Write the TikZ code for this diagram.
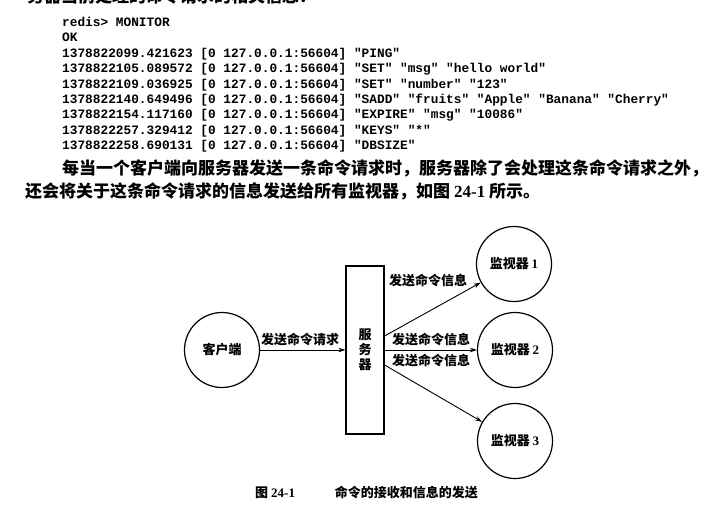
\documentclass[tikz,border=0pt]{standalone}
\usepackage{fontspec}
\setmainfont{Liberation Serif}
\setmonofont{Liberation Mono}
\newfontfamily\cjk{Noto Sans CJK SC}
\usetikzlibrary{arrows.meta}
\begin{document}
\begin{tikzpicture}[x=1pt,y=-1pt,
  code/.style={anchor=base west,inner sep=0pt,font=\ttfamily\bfseries\fontsize{12.8}{14}\selectfont},
  para/.style={anchor=base west,inner sep=0pt,font=\cjk\bfseries\fontsize{17}{20}\selectfont},
  lab/.style={inner sep=0pt,font=\cjk\bfseries\fontsize{13}{15}\selectfont},
  circ/.style={draw,circle,line width=1.2pt,minimum size=75pt,inner sep=0pt,font=\cjk\bfseries\fontsize{13}{15}\selectfont},
  conn/.style={line width=0.9pt,-{Stealth[length=7pt,width=4.5pt]}}]
\useasboundingbox (0,0) rectangle (721,527);
\begin{scope}
\clip (0,0) rectangle (721,527);
\node[para] (top) at (27,3) {务器当前处理的命令请求的相关信息：};
\end{scope}
\node[code] (c1) at (62,26.5) {redis> MONITOR};
\node[code] (c2) at (62,41.9) {OK};
\node[code] (c3) at (62,57.3) {1378822099.421623 [0 127.0.0.1:56604] "PING"};
\node[code] (c4) at (62,72.7) {1378822105.089572 [0 127.0.0.1:56604] "SET" "msg" "hello world"};
\node[code] (c5) at (62,88.1) {1378822109.036925 [0 127.0.0.1:56604] "SET" "number" "123"};
\node[code] (c6) at (62,103.5) {1378822140.649496 [0 127.0.0.1:56604] "SADD" "fruits" "Apple" "Banana" "Cherry"};
\node[code] (c7) at (62,118.9) {1378822154.117160 [0 127.0.0.1:56604] "EXPIRE" "msg" "10086"};
\node[code] (c8) at (62,134.3) {1378822257.329412 [0 127.0.0.1:56604] "KEYS" "*"};
\node[code] (c9) at (62,149.7) {1378822258.690131 [0 127.0.0.1:56604] "DBSIZE"};
\node[para] (p1) at (62,174.5) {每当一个客户端向服务器发送一条命令请求时，服务器除了会处理这条命令请求之外，};
\node[para] (p2) at (25,197.5) {还会将关于这条命令请求的信息发送给所有监视器，如图 {\rmfamily\bfseries 24-1} 所示。};
\node[circ] (client) at (222,350) {客户端};
\node[draw,line width=1.2pt,minimum width=38pt,minimum height=168pt,lab,align=center] (server) at (365,350) {服\\务\\器};
\node[circ] (m1) at (514,264) {监视器 {\rmfamily\bfseries 1}};
\node[circ] (m2) at (515,350) {监视器 {\rmfamily\bfseries 2}};
\node[circ] (m3) at (515,441) {监视器 {\rmfamily\bfseries 3}};
\draw[conn] (client.east) -- (server.west);
\draw[conn] ([yshift=14pt]server.east) -- (m1);
\draw[conn] (server.east) -- (m2);
\draw[conn] ([yshift=-15pt]server.east) -- (m3);
\node[lab] (l0) at (300,340) {发送命令请求};
\node[lab] (l1) at (428,281) {发送命令信息};
\node[lab] (l2) at (431,340) {发送命令信息};
\node[lab] (l3) at (431,361) {发送命令信息};
\node[lab,anchor=west] (cap1) at (255,493) {图 {\rmfamily\bfseries 24-1}};
\node[lab,anchor=east] (cap2) at (478,493) {命令的接收和信息的发送};
\end{tikzpicture}
\end{document}
